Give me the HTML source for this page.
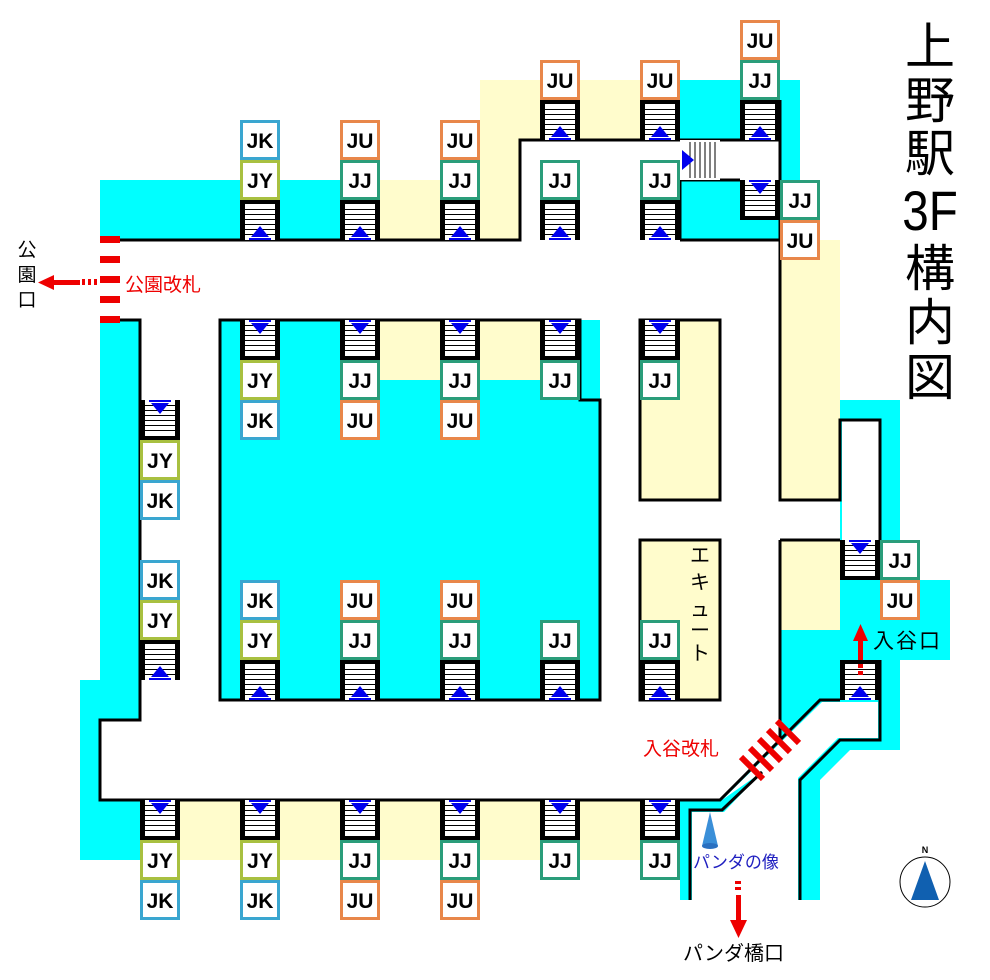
<!DOCTYPE html>
<html><head><meta charset="utf-8"><style>
html,body{margin:0;padding:0;background:#fff}
svg{display:block}
text{font-family:"Liberation Sans","Noto Sans CJK JP",sans-serif}
.lb text{font-weight:bold;font-size:21px;text-anchor:middle}
</style></head><body>
<svg width="990" height="980" viewBox="0 0 990 980" xmlns="http://www.w3.org/2000/svg">
<defs>
<g id="su">
<rect x="0" y="0" width="40" height="40" fill="#fff"/>
<g stroke="#000" stroke-width="1"><path d="M5 9.5H35M5 14.5H35M5 19.5H35M5 24.5H35M5 29.5H35M5 34.5H35"/></g>
<rect x="0" y="0" width="5" height="40"/><rect x="35" y="0" width="5" height="40"/><rect x="0" y="0" width="40" height="4"/>
<polygon points="11,37 29,37 20,26" fill="#0000ee"/><rect x="9" y="38" width="22" height="2" fill="#0000ee"/>
</g>
<g id="sd"><use href="#su" transform="translate(0,40) scale(1,-1)"/></g>
<g id="sr">
<rect x="0" y="0" width="40" height="40" fill="#fff"/>
<g stroke="#000" stroke-width="1"><path d="M10 2V38M15 2V38M20 2V38M25 2V38M30 2V38M35 2V38"/></g>
<polygon points="2,10 2,30 14,20" fill="#0000ee"/>
</g>
</defs>

<!-- fills -->
<g fill="#00ffff">
<rect x="100" y="180" width="140" height="60"/>
<rect x="280" y="180" width="60" height="60"/>
<rect x="680" y="80" width="120" height="160"/>
<rect x="220" y="320" width="380" height="380"/>
<rect x="100" y="320" width="40" height="400"/>
<rect x="80" y="680" width="20" height="180"/>
<rect x="80" y="800" width="60" height="60"/>
<polygon points="840,400 900,400 900,580 950,580 950,660 900,660 900,750 850,750 820,780 820,900 680,900 680,800 720,800 780,740 780,630 840,630"/>
</g>
<g fill="#fffccc">
<rect x="380" y="180" width="100" height="60"/>
<rect x="480" y="80" width="200" height="60"/>
<rect x="480" y="140" width="40" height="100"/>
<rect x="780" y="240" width="60" height="260"/>
<rect x="380" y="320" width="60" height="60"/>
<rect x="480" y="320" width="60" height="60"/>
<rect x="640" y="320" width="80" height="180"/>
<rect x="640" y="540" width="80" height="160"/>
<rect x="780" y="540" width="60" height="90"/>
<rect x="180" y="800" width="500" height="60"/>
</g>
<g fill="#fff">
<rect x="520" y="140" width="160" height="100"/>
<rect x="680" y="140" width="100" height="40"/>
<rect x="842" y="420" width="38" height="120"/>
<polygon points="722,800 822,702 878,702 878,738 838,738 798,778 798,900 692,900 692,812 724,812 762,772"/>
</g>

<!-- walls -->
<g fill="none" stroke="#000" stroke-width="3">
<path d="M100,240 H520 V140 H780"/>
<path d="M680,240 V180 H740 M680,240 H780"/>
<path d="M780,100 V500 H840 V420 H880 V540"/>
<path d="M220,320 H580 V400 H600 V700 H220 Z"/>
<path d="M640,320 H720 V500 H640 Z"/>
<path d="M640,540 H720 V700 H640 Z"/>
<path d="M120,320 H140 V720 H100 V800 H720 L820,700 H840"/>
<path d="M780,540 H840 M780,540 V740"/>
<path d="M880,660 V740 H840 L800,780 V900"/>
<path d="M690,900 V810 H722 L762,772"/>
</g>

<!-- stairs -->
<use href="#su" x="240" y="200"/><use href="#su" x="340" y="200"/><use href="#su" x="440" y="200"/>
<use href="#su" x="540" y="200"/><use href="#su" x="640" y="200"/>
<use href="#su" x="540" y="100"/><use href="#su" x="640" y="100"/><use href="#su" x="740" y="100"/>
<use href="#sd" x="740" y="180"/><use href="#sr" x="680" y="140"/>
<use href="#sd" x="240" y="320"/><use href="#sd" x="340" y="320"/><use href="#sd" x="440" y="320"/><use href="#sd" x="540" y="320"/><use href="#sd" x="640" y="320"/>
<use href="#sd" x="140" y="400"/><use href="#su" x="140" y="640"/>
<use href="#su" x="240" y="660"/><use href="#su" x="340" y="660"/><use href="#su" x="440" y="660"/><use href="#su" x="540" y="660"/><use href="#su" x="640" y="660"/>
<use href="#sd" x="840" y="540"/><use href="#su" x="840" y="660"/>
<use href="#sd" x="140" y="800"/><use href="#sd" x="240" y="800"/><use href="#sd" x="340" y="800"/><use href="#sd" x="440" y="800"/><use href="#sd" x="540" y="800"/><use href="#sd" x="640" y="800"/>

<!-- labels -->
<g class="lb" fill="#fff" stroke-width="3">
<g stroke="#3aa6d0"><rect x="241.5" y="121.5" width="37" height="37"/><rect x="241.5" y="401.5" width="37" height="37"/><rect x="141.5" y="481.5" width="37" height="37"/><rect x="141.5" y="561.5" width="37" height="37"/><rect x="241.5" y="581.5" width="37" height="37"/><rect x="141.5" y="881.5" width="37" height="37"/><rect x="241.5" y="881.5" width="37" height="37"/></g>
<g stroke="#a8c040"><rect x="241.5" y="161.5" width="37" height="37"/><rect x="241.5" y="361.5" width="37" height="37"/><rect x="141.5" y="441.5" width="37" height="37"/><rect x="141.5" y="601.5" width="37" height="37"/><rect x="241.5" y="621.5" width="37" height="37"/><rect x="141.5" y="841.5" width="37" height="37"/><rect x="241.5" y="841.5" width="37" height="37"/></g>
<g stroke="#e8874a"><rect x="341.5" y="121.5" width="37" height="37"/><rect x="441.5" y="121.5" width="37" height="37"/><rect x="541.5" y="61.5" width="37" height="37"/><rect x="641.5" y="61.5" width="37" height="37"/><rect x="741.5" y="21.5" width="37" height="37"/><rect x="781.5" y="221.5" width="37" height="37"/><rect x="341.5" y="401.5" width="37" height="37"/><rect x="441.5" y="401.5" width="37" height="37"/><rect x="341.5" y="581.5" width="37" height="37"/><rect x="441.5" y="581.5" width="37" height="37"/><rect x="881.5" y="581.5" width="37" height="37"/><rect x="341.5" y="881.5" width="37" height="37"/><rect x="441.5" y="881.5" width="37" height="37"/></g>
<g stroke="#2a9d7a"><rect x="341.5" y="161.5" width="37" height="37"/><rect x="441.5" y="161.5" width="37" height="37"/><rect x="541.5" y="161.5" width="37" height="37"/><rect x="641.5" y="161.5" width="37" height="37"/><rect x="741.5" y="61.5" width="37" height="37"/><rect x="781.5" y="181.5" width="37" height="37"/><rect x="341.5" y="361.5" width="37" height="37"/><rect x="441.5" y="361.5" width="37" height="37"/><rect x="541.5" y="361.5" width="37" height="37"/><rect x="641.5" y="361.5" width="37" height="37"/><rect x="341.5" y="621.5" width="37" height="37"/><rect x="441.5" y="621.5" width="37" height="37"/><rect x="541.5" y="621.5" width="37" height="37"/><rect x="641.5" y="621.5" width="37" height="37"/><rect x="881.5" y="541.5" width="37" height="37"/><rect x="341.5" y="841.5" width="37" height="37"/><rect x="441.5" y="841.5" width="37" height="37"/><rect x="541.5" y="841.5" width="37" height="37"/><rect x="641.5" y="841.5" width="37" height="37"/></g>
</g>
<g class="lb" fill="#000">
<text x="260" y="148">JK</text><text x="260" y="188">JY</text>
<text x="360" y="148">JU</text><text x="360" y="188">JJ</text>
<text x="460" y="148">JU</text><text x="460" y="188">JJ</text>
<text x="560" y="88">JU</text><text x="560" y="188">JJ</text>
<text x="660" y="88">JU</text><text x="660" y="188">JJ</text>
<text x="760" y="48">JU</text><text x="760" y="88">JJ</text>
<text x="800" y="208">JJ</text><text x="800" y="248">JU</text>
<text x="260" y="388">JY</text><text x="260" y="428">JK</text>
<text x="360" y="388">JJ</text><text x="360" y="428">JU</text>
<text x="460" y="388">JJ</text><text x="460" y="428">JU</text>
<text x="560" y="388">JJ</text><text x="660" y="388">JJ</text>
<text x="160" y="468">JY</text><text x="160" y="508">JK</text>
<text x="160" y="588">JK</text><text x="160" y="628">JY</text>
<text x="260" y="608">JK</text><text x="260" y="648">JY</text>
<text x="360" y="608">JU</text><text x="360" y="648">JJ</text>
<text x="460" y="608">JU</text><text x="460" y="648">JJ</text>
<text x="560" y="648">JJ</text><text x="660" y="648">JJ</text>
<text x="900" y="568">JJ</text><text x="900" y="608">JU</text>
<text x="160" y="868">JY</text><text x="160" y="908">JK</text>
<text x="260" y="868">JY</text><text x="260" y="908">JK</text>
<text x="360" y="868">JJ</text><text x="360" y="908">JU</text>
<text x="460" y="868">JJ</text><text x="460" y="908">JU</text>
<text x="560" y="868">JJ</text><text x="660" y="868">JJ</text>
</g>

<!-- エキュート -->
<g font-size="20" text-anchor="middle" fill="#000">
<text x="700" y="562">エ</text><text x="700" y="589">キ</text><text x="700" y="616">ュ</text><text x="700" y="637">ー</text><text x="700" y="660">ト</text>
</g>

<!-- 公園改札 gate -->
<g fill="#ee0000">
<rect x="100" y="236" width="20" height="7"/><rect x="100" y="256" width="20" height="7"/><rect x="100" y="276" width="20" height="7"/><rect x="100" y="296" width="20" height="7"/><rect x="100" y="316" width="20" height="7"/>
<rect x="82" y="279" width="3" height="6"/><rect x="88" y="279" width="3" height="6"/><rect x="94" y="279" width="3" height="6"/>
<rect x="52" y="280" width="28" height="5"/><polygon points="38,282.5 54,275 54,290"/>
</g>
<text x="125" y="291" font-size="19" fill="#ee0000">公園改札</text>
<g font-size="19" fill="#000" text-anchor="middle"><text x="27" y="256">公</text><text x="27" y="281">園</text><text x="27" y="306">口</text></g>

<!-- 入谷改札 gate -->
<g stroke="#ee0000" stroke-width="6">
<line x1="741" y1="757" x2="763" y2="779"/><line x1="750" y1="748" x2="772" y2="770"/><line x1="759" y1="739" x2="781" y2="761"/><line x1="768" y1="730" x2="790" y2="752"/><line x1="777" y1="721" x2="799" y2="743"/>
</g>
<text x="643" y="755" font-size="19" fill="#ee0000">入谷改札</text>

<!-- 入谷口 arrow -->
<g fill="#ee0000">
<rect x="858" y="671" width="5" height="4"/><rect x="858" y="664" width="5" height="4"/>
<rect x="858" y="640" width="5" height="20"/><polygon points="860.5,624 853,641 868,641"/>
</g>
<text x="873" y="648" font-size="21" fill="#000" letter-spacing="2">入谷口</text>

<!-- panda -->
<polygon points="710,812 702,846 718,846" fill="#3a8fd8"/>
<ellipse cx="710" cy="846" rx="8" ry="3" fill="#2a70c0"/>
<text x="693" y="868" font-size="17" fill="#2020c0">パンダの像</text>
<g fill="#ee0000">
<rect x="735" y="881" width="6" height="3"/><rect x="735" y="887" width="6" height="3"/>
<rect x="736" y="895" width="5" height="25"/><polygon points="738.5,938 730,920 747,920"/>
</g>
<text x="683" y="960" font-size="20" fill="#000">パンダ橋口</text>

<!-- compass -->
<circle cx="925" cy="882" r="25" fill="#fff" stroke="#000" stroke-width="1"/>
<polygon points="925,861 911,900 939,900" fill="#1060b0"/>
<text x="925" y="853" font-size="9" font-weight="bold" text-anchor="middle">N</text>

<!-- title -->
<g font-size="50" text-anchor="middle" fill="#000">
<text x="930" y="64">上</text><text x="930" y="118">野</text><text x="930" y="171">駅</text>
<text x="930" y="230" font-size="56" transform="translate(930,0) scale(0.85,1) translate(-930,0)">3F</text>
<text x="930" y="286">構</text><text x="930" y="340">内</text><text x="930" y="395">図</text>
</g>
</svg>
</body></html>
